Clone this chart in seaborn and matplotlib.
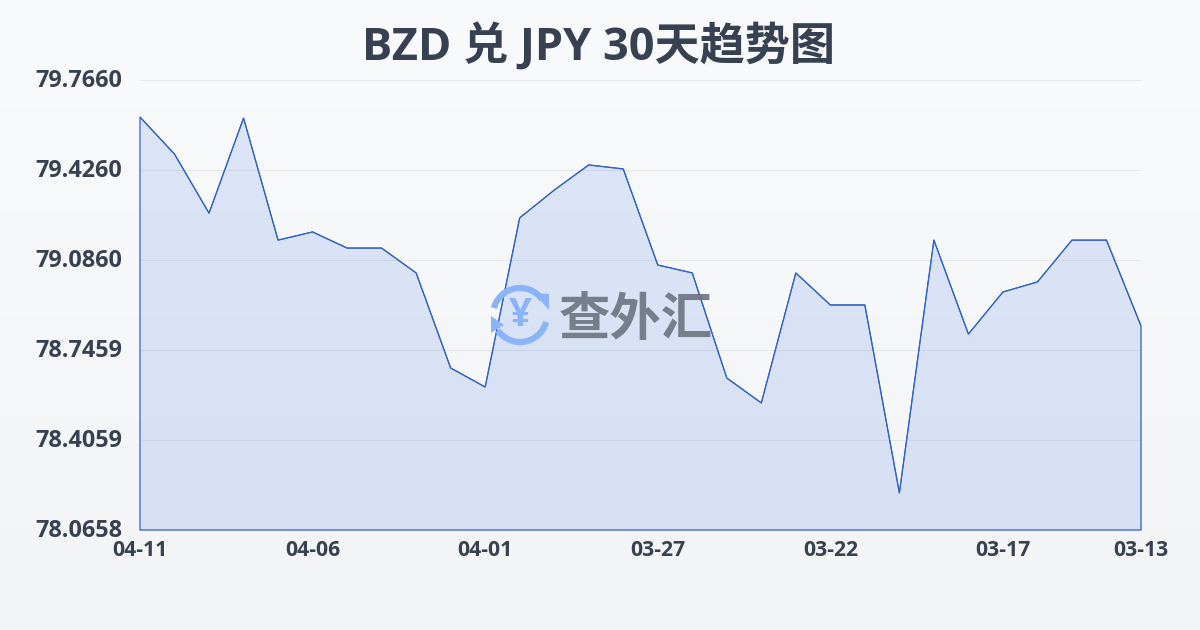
import numpy as np
import pandas as pd
import seaborn as sns
import matplotlib
matplotlib.use("Agg")
import matplotlib.pyplot as plt
from matplotlib.patches import Arc, Polygon
from matplotlib.transforms import ScaledTranslation

dates = ["04-11", "04-10", "04-09", "04-08", "04-07", "04-06", "04-05", "04-04", "04-03", "04-02",
         "04-01", "03-31", "03-30", "03-29", "03-28", "03-27", "03-26", "03-25", "03-24", "03-23",
         "03-22", "03-21", "03-20", "03-19", "03-18", "03-17", "03-16", "03-15", "03-14", "03-13"]
rates = [79.626, 79.486, 79.263, 79.622, 79.161, 79.192, 79.131, 79.131, 79.037, 78.678,
         78.606, 79.245, 79.350, 79.445, 79.430, 79.067, 79.037, 78.640, 78.546, 79.037,
         78.916, 78.916, 78.206, 79.161, 78.806, 78.965, 79.003, 79.161, 79.161, 78.837]
y_ticks = [78.0658, 78.4059, 78.7459, 79.0860, 79.4260, 79.7660]
x_ticks = ["04-11", "04-06", "04-01", "03-27", "03-22", "03-17", "03-13"]

sns.set_theme(style="white")
plt.rcParams["font.family"] = ["Open Sans", "Noto Sans CJK SC", "DejaVu Sans"]

df = pd.DataFrame({"date": dates, "rate": rates})
W, H = 1200, 630
text_color = "#374151"
line_color = "#2f62c8"

fig = plt.figure(figsize=(12, 6.3), dpi=100)

# background gradient
bg = fig.add_axes([0, 0, 1, 1], zorder=0)
bg.imshow(np.linspace(0, 1, 256).reshape(-1, 1), aspect="auto", extent=[0, W, H, 0],
          cmap=matplotlib.colors.LinearSegmentedColormap.from_list("bg", ["#f9fafc", "#f3f4f6"]))
bg.set_xlim(0, W)
bg.set_ylim(H, 0)
bg.axis("off")

ax = fig.add_axes([140 / W, 1 - 530 / H, 1001 / W, 450 / H], zorder=1)
ax.patch.set_alpha(0)

ax.fill_between(df["date"], df["rate"], y_ticks[0], facecolor="#3b6fe0", alpha=0.15, linewidth=0, zorder=2)
edge = ax.fill_between(df["date"], df["rate"], y_ticks[0], facecolor="none", edgecolor=line_color,
                       linewidth=0.9, zorder=5)
edge.set_clip_on(False)
sns.lineplot(data=df, x="date", y="rate", sort=False, color=line_color, linewidth=0.8, ax=ax, zorder=5)

ax.set_xlim(0, len(dates) - 1)
ax.set_ylim(y_ticks[0], y_ticks[-1])
ax.set_xticks(x_ticks)
ax.set_yticks(y_ticks)
ax.set_yticklabels([f"{v:.4f}" for v in y_ticks])
ax.set_xlabel("")
ax.set_ylabel("")
ax.grid(axis="y", color="#e5e7eb", linewidth=0.8, zorder=1)
ax.grid(axis="x", visible=False)
for s in ax.spines.values():
    s.set_visible(False)
ax.tick_params(axis="y", length=0, pad=13, labelsize=16.8, labelcolor=text_color)
ax.tick_params(axis="x", length=0, pad=7, labelsize=15.2, labelcolor=text_color)
for t in ax.get_yticklabels() + ax.get_xticklabels():
    t.set_fontweight("bold")
# y labels sit a little above their grid lines
for t in ax.get_yticklabels():
    t.set_transform(t.get_transform() + ScaledTranslation(0, 2 / 100, fig.dpi_scale_trans))

fig.text(598 / W, 1 - 48 / H, "BZD 兑 JPY 30天趋势图", ha="center", va="center",
         fontsize=32.5, fontweight="bold", color=text_color, zorder=3)

# watermark logo
top = fig.add_axes([0, 0, 1, 1], zorder=3)
top.set_xlim(0, W)
top.set_ylim(H, 0)
top.axis("off")
logo_blue = "#8ab4f8"
top.add_patch(Arc((520, 315), 54, 54, theta1=195, theta2=325, color=logo_blue, lw=4.5))
top.add_patch(Arc((520, 315), 54, 54, theta1=15, theta2=145, color=logo_blue, lw=4.5))
top.add_patch(Polygon([[534, 293], [549, 294], [549, 310]], color=logo_blue, lw=0))
top.add_patch(Polygon([[491, 316], [491, 333], [504, 325]], color=logo_blue, lw=0))
top.text(520, 315, "¥", ha="center", va="center", fontsize=29, fontweight="bold", color=logo_blue)
top.text(636, 322, "查外汇", ha="center", va="center", fontsize=37, fontweight="bold",
         color="#6b7280", alpha=0.9)

fig.savefig("out.png", dpi=100)
